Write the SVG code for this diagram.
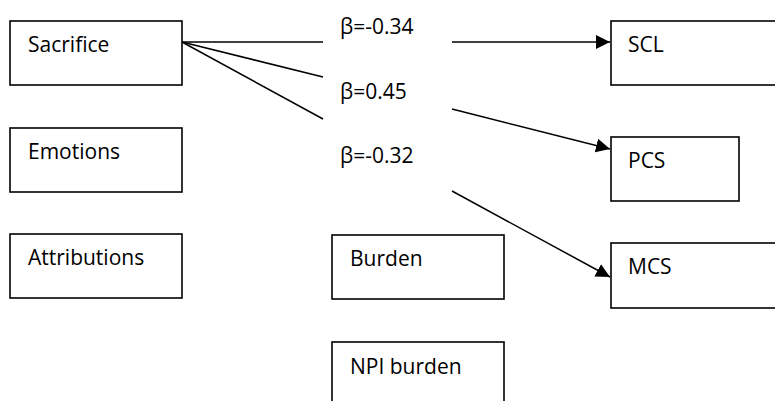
<svg xmlns="http://www.w3.org/2000/svg" width="775" height="401" viewBox="0 0 775 401">
<style>
.box{fill:#fff;stroke:#000;stroke-width:1.6}
.t{font-family:"Open Sans","Noto Sans",sans-serif;font-size:21px;fill:#000}
.c{stroke:#000;stroke-width:1.5;fill:none}
</style>
<defs>
<marker id="ah" markerWidth="14" markerHeight="14" refX="14" refY="7" orient="auto" markerUnits="userSpaceOnUse">
<path d="M0,0 L14,7 L0,14 Z" fill="#000"/>
</marker>
</defs>
<rect width="775" height="401" fill="#fff"/>
<g id="sacrifice"><rect class="box" x="10" y="21" width="172" height="64"/><text class="t" x="28" y="52">Sacrifice</text></g>
<g id="emotions"><rect class="box" x="10" y="128" width="172" height="64"/><text class="t" x="28" y="159">Emotions</text></g>
<g id="attributions"><rect class="box" x="10" y="234" width="172" height="64"/><text class="t" x="28" y="265">Attributions</text></g>
<g id="burden"><rect class="box" x="332" y="235" width="172" height="64"/><text class="t" x="350" y="266">Burden</text></g>
<g id="npi"><rect class="box" x="332" y="342" width="172" height="80"/><text class="t" x="350" y="374">NPI burden</text></g>
<g id="scl"><rect class="box" x="611" y="21" width="180" height="64"/><text class="t" x="628" y="52">SCL</text></g>
<g id="pcs"><rect class="box" x="611" y="137" width="128" height="64"/><text class="t" x="628" y="168">PCS</text></g>
<g id="mcs"><rect class="box" x="611" y="243" width="180" height="65"/><text class="t" x="628" y="274">MCS</text></g>
<g id="connectors">
<line class="c" x1="182" y1="42" x2="323" y2="42"/>
<line class="c" x1="182" y1="42" x2="323" y2="77"/>
<line class="c" x1="182" y1="42" x2="323" y2="119"/>
<line class="c" x1="452" y1="42" x2="610" y2="42" marker-end="url(#ah)"/>
<line class="c" x1="452" y1="109" x2="610" y2="149" marker-end="url(#ah)"/>
<line class="c" x1="452" y1="191" x2="610" y2="277" marker-end="url(#ah)"/>
<text class="t" x="340" y="34">β=-0.34</text>
<text class="t" x="340" y="99">β=0.45</text>
<text class="t" x="340" y="163">β=-0.32</text>
</g>
</svg>
